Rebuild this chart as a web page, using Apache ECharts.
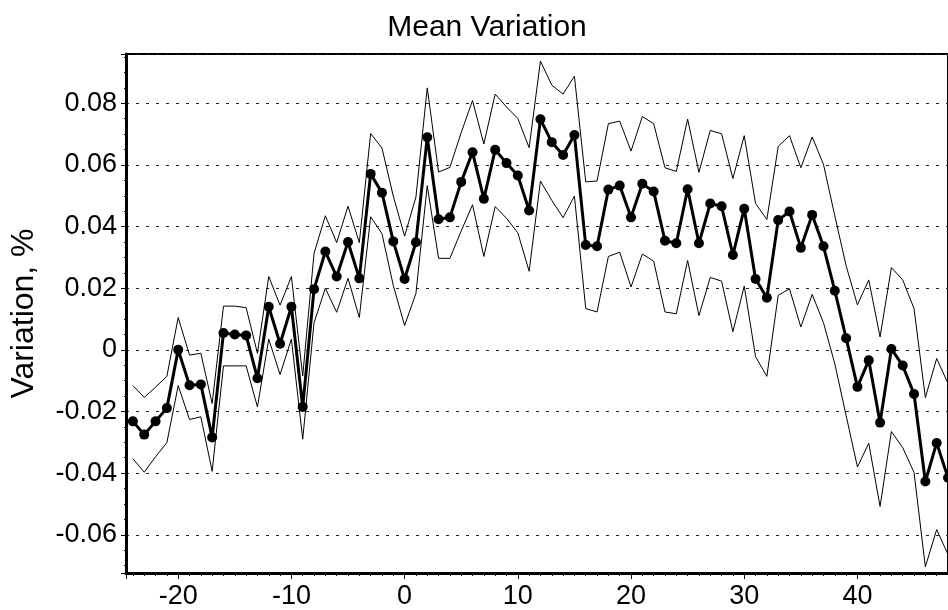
<!DOCTYPE html>
<html>
<head>
<meta charset="utf-8">
<script src="https://cdn.jsdelivr.net/npm/echarts@6/dist/echarts.min.js"></script>
<style>
html,body{margin:0;padding:0;background:#fff;}
#chart{width:948px;height:610px;}
</style>
</head>
<body>
<div id="chart"></div>
<script>
const xValues = [-24,-23,-22,-21,-20,-19,-18,-17,-16,-15,-14,-13,-12,-11,-10,-9,-8,-7,-6,-5,-4,-3,-2,-1,
  0,1,2,3,4,5,6,7,8,9,10,11,12,13,14,15,16,17,18,19,20,21,22,23,24,25,26,27,28,29,30,
  31,32,33,34,35,36,37,38,39,40,41,42,43,44,45,46,47,48];

const meanValues = [-0.0232,-0.0275,-0.0232,-0.0189,0.0000,-0.0115,-0.0112,-0.0284,0.0055,0.0050,0.0047,-0.0092,
  0.0140,0.0020,0.0140,-0.0185,0.0197,0.0319,0.0238,0.0350,0.0232,0.0571,0.0510,0.0352,
  0.0230,0.0349,0.0690,0.0424,0.0430,0.0545,0.0641,0.0490,0.0649,0.0606,0.0566,0.0452,
  0.0748,0.0674,0.0632,0.0697,0.0340,0.0336,0.0520,0.0533,0.0430,0.0539,0.0514,0.0354,
  0.0346,0.0521,0.0346,0.0475,0.0466,0.0308,0.0458,0.0230,0.0169,0.0421,0.0449,0.0331,
  0.0438,0.0336,0.0192,0.0038,-0.0120,-0.0034,-0.0236,0.0003,-0.0051,-0.0143,-0.0427,-0.0302,-0.0415];

const upperValues = [-0.0116,-0.0154,-0.0121,-0.0086,0.0105,-0.0017,-0.0011,-0.0174,0.0142,0.0142,0.0137,-0.0011,
  0.0238,0.0145,0.0238,-0.0085,0.0313,0.0435,0.0348,0.0466,0.0348,0.0702,0.0655,0.0499,
  0.0369,0.0496,0.0850,0.0577,0.0592,0.0705,0.0809,0.0668,0.0830,0.0788,0.0751,0.0656,
  0.0937,0.0859,0.0830,0.0888,0.0545,0.0548,0.0734,0.0742,0.0645,0.0757,0.0734,0.0591,
  0.0579,0.0749,0.0576,0.0712,0.0701,0.0556,0.0695,0.0475,0.0423,0.0660,0.0695,0.0591,
  0.0691,0.0602,0.0435,0.0273,0.0146,0.0227,0.0042,0.0267,0.0227,0.0134,-0.0155,-0.0028,-0.0109];

const lowerValues = [-0.0353,-0.0397,-0.0347,-0.0301,-0.0116,-0.0226,-0.0217,-0.0394,-0.0052,-0.0052,-0.0052,-0.0185,
  0.0035,-0.0080,0.0035,-0.0290,0.0088,0.0200,0.0122,0.0232,0.0105,0.0432,0.0377,0.0209,
  0.0079,0.0183,0.0533,0.0297,0.0297,0.0386,0.0471,0.0303,0.0465,0.0427,0.0380,0.0255,
  0.0548,0.0485,0.0429,0.0499,0.0134,0.0123,0.0303,0.0317,0.0204,0.0311,0.0288,0.0123,
  0.0117,0.0290,0.0111,0.0235,0.0223,0.0059,0.0207,-0.0022,-0.0086,0.0177,0.0198,0.0074,
  0.0180,0.0088,-0.0045,-0.0213,-0.0380,-0.0303,-0.0508,-0.0265,-0.0317,-0.0398,-0.0704,-0.0583,-0.0664];

const chartTitle = 'Mean Variation';
const yAxisName = 'Variation, %';

const pairs = arr => xValues.map((x, i) => [x, arr[i]]);

const FONT = '"Liberation Sans", Arial, sans-serif';

const chart = echarts.init(document.getElementById('chart'), null, {renderer: 'canvas'});
chart.setOption({
  animation: false,
  backgroundColor: '#ffffff',
  title: {
    text: chartTitle,
    left: 482,
    top: 8,
    textAlign: 'center',
    textStyle: {fontFamily: FONT, fontSize: 30, fontWeight: 'normal', color: '#000'}
  },
  grid: {
    left: 126, right: -1.4, top: 54, bottom: 36,
    show: true, borderColor: '#000', borderWidth: 2, backgroundColor: 'transparent'
  },
  xAxis: {
    type: 'value',
    min: -24.61, max: 48,
    splitNumber: 7,
    axisLine: {show: true, onZero: false, lineStyle: {color: '#000', width: 3}},
    axisTick: {show: true, inside: false, length: 6, lineStyle: {color: '#000', width: 1}},
    minorTick: {show: true, splitNumber: 10, length: 3, lineStyle: {color: '#000', width: 1}},
    splitLine: {show: false},
    axisLabel: {
      showMinLabel: false, showMaxLabel: false,
      margin: 10,
      fontFamily: FONT, fontSize: 27, color: '#000',
      formatter: v => String(Math.round(v))
    }
  },
  yAxis: {
    type: 'value',
    min: -0.0724, max: 0.096,
    splitNumber: 8,
    name: yAxisName,
    nameLocation: 'middle',
    nameGap: 86,
    nameTextStyle: {fontFamily: FONT, fontSize: 32, color: '#000'},
    axisLine: {show: true, onZero: false, lineStyle: {color: '#000', width: 3}},
    axisTick: {show: true, inside: false, length: 5, lineStyle: {color: '#000', width: 1}},
    minorTick: {show: true, splitNumber: 4, length: 2, lineStyle: {color: '#000', width: 1}},
    splitLine: {show: true, lineStyle: {color: '#222', width: 1, type: [3, 7]}},
    axisLabel: {
      showMinLabel: false, showMaxLabel: false,
      margin: 9,
      fontFamily: FONT, fontSize: 27, color: '#000',
      formatter: v => String(+v.toFixed(2))
    }
  },
  series: [
    {
      name: 'Upper', type: 'line', data: pairs(upperValues),
      showSymbol: false, symbol: 'none',
      lineStyle: {color: '#000', width: 1}, z: 3
    },
    {
      name: 'Lower', type: 'line', data: pairs(lowerValues),
      showSymbol: false, symbol: 'none',
      lineStyle: {color: '#000', width: 1}, z: 3
    },
    {
      name: 'Mean', type: 'line', data: pairs(meanValues),
      symbol: 'circle', symbolSize: 10,
      itemStyle: {color: '#000'},
      lineStyle: {color: '#000', width: 3}, z: 4
    }
  ]
});
</script>
</body>
</html>
